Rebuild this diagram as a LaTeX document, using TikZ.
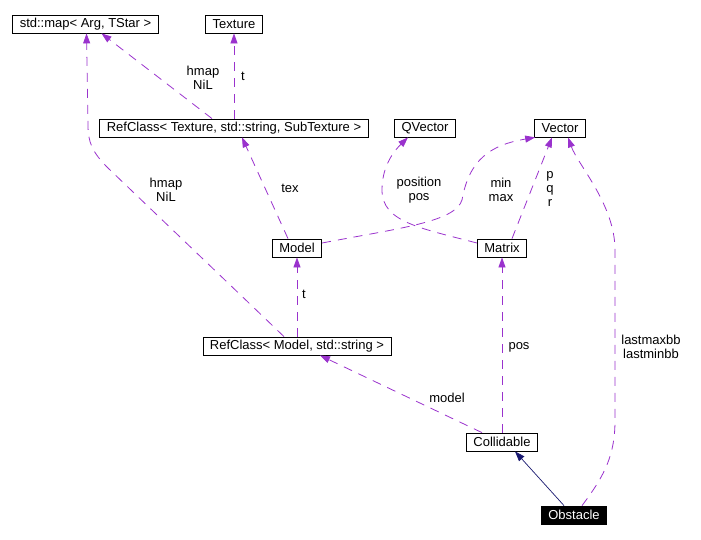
\documentclass[tikz,border=0pt]{standalone}
\usepackage{fontspec}
\setmainfont{Liberation Sans}
\usetikzlibrary{arrows.meta}
\definecolor{edgepurple}{RGB}{154,50,205}
\definecolor{inhblue}{RGB}{25,25,112}
\begin{document}
\begin{tikzpicture}[x=1pt,y=-1pt,
 cls/.style={draw=black, fill=white, line width=0.8pt, minimum height=18pt, inner xsep=7pt, inner ysep=0pt, font=\fontsize{13}{14}\selectfont, anchor=center},
 cur/.style={cls, fill=black, text=white},
 usage/.style={draw=edgepurple, line width=0.8pt, dash pattern=on 9pt off 7pt, -{Triangle[length=10pt,width=7pt]}},
 inh/.style={draw=inhblue, line width=0.7pt, -{Triangle[length=10pt,width=7pt]}},
 lbl/.style={font=\fontsize{13}{14}\selectfont, align=center, inner sep=0pt}]
\useasboundingbox (0,0) rectangle (701,539);
% classes
\node[cls] (map) at (85.5,24) {std::map< Arg, TStar >};
\node[cls] (tex) at (234,24) {Texture};
\node[cls] (rct) at (234,128) {RefClass< Texture, std::string, SubTexture >};
\node[cls] (qv) at (425,128) {QVector};
\node[cls] (vec) at (560,128) {Vector};
\node[cls] (model) at (297,248) {Model};
\node[cls] (mat) at (502,248) {Matrix};
\node[cls] (rcm) at (297,346) {RefClass< Model, std::string >};
\node[cls] (col) at (502,442) {Collidable};
\node[cur] (obs) at (574,515) {Obstacle};
% edges
\draw[usage] ([xshift=-22pt]rct.north) -- ([xshift=16pt]map.south);
\draw[usage] (rct.north) -- (tex.south);
\draw[usage] ([xshift=-13pt]rcm.north) -- (108,168) .. controls (92,152) and (88,142) .. (88,125) -- ([xshift=1pt]map.south);
\draw[usage] ([xshift=-9pt]model.north) -- ([xshift=8pt]rct.south);
\draw[usage] ([yshift=5pt]model.east) .. controls (400,228) and (455,222) .. (462,200) .. controls (469,160) and (490,145) .. ([xshift=1pt]vec.south west);
\draw[usage] ([yshift=5pt]mat.west) .. controls (420,228) and (382,222) .. (382,190) .. controls (382,165) and (395,150) .. ([xshift=-17pt]qv.south);
\draw[usage] ([xshift=10pt]mat.north) -- ([xshift=-8pt]vec.south);
\draw[usage] (rcm.north) -- (model.south);
\draw[usage] ([xshift=-20pt]col.north) -- ([xshift=23pt]rcm.south);
\draw[usage] (col.north) -- (mat.south);
\draw[usage] ([xshift=8pt]obs.north) .. controls (605,475) and (615,455) .. (615,420) -- (615,250) .. controls (615,205) and (578,165) .. ([xshift=8pt]vec.south);
\draw[inh] ([xshift=-10pt]obs.north) -- ([xshift=13pt]col.south);
% labels
\node[lbl] (l1) at (203,78) {hmap\\NiL};
\node[lbl] (l2) at (243,76) {t};
\node[lbl] (l3) at (166,190) {hmap\\NiL};
\node[lbl] (l4) at (290,188) {tex};
\node[lbl] (l5) at (419,190) {position\\pos};
\node[lbl] (l6) at (501,190) {min\\max};
\node[lbl] (l7) at (550,189) {p\\q\\r};
\node[lbl] (l8) at (304,294) {t};
\node[lbl] (l9) at (447,398) {model};
\node[lbl] (l10) at (519,347) {pos};
\node[lbl] (l11) at (651,347) {lastmaxbb\\lastminbb};
\end{tikzpicture}
\end{document}
